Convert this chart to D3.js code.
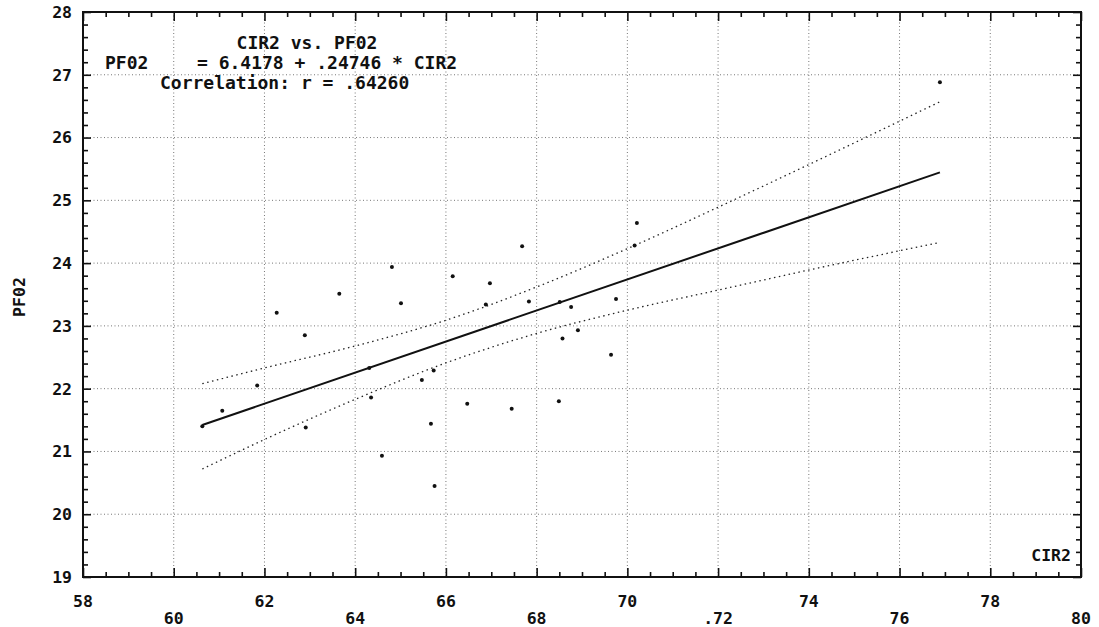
<!DOCTYPE html>
<html>
<head>
<meta charset="utf-8">
<script src="https://cdnjs.cloudflare.com/ajax/libs/d3/7.8.5/d3.min.js"></script>
<style>
  body { margin: 0; background: #fff; }
  text { font-family: "DejaVu Sans Mono", monospace; font-weight: bold; fill: #111; }
</style>
</head>
<body>
<div id="chart"></div>
<script>
// scatter points
var cir2 = [60.63, 61.07, 61.84, 62.27, 62.89, 62.91, 63.65, 64.31, 64.35, 64.59, 64.81,
            65.01, 65.47, 65.67, 65.73, 65.75, 66.15, 66.47, 66.88, 66.97, 67.45, 67.68,
            67.83, 68.49, 68.51, 68.57, 68.76, 68.91, 69.64, 69.75, 70.16, 70.21, 76.89];
var pf02 = [21.40, 21.65, 22.05, 23.21, 22.85, 21.38, 23.51, 22.33, 21.86, 20.93, 23.94,
            23.36, 22.14, 21.44, 22.29, 20.45, 23.79, 21.76, 23.34, 23.68, 21.68, 24.27,
            23.39, 21.80, 23.38, 22.80, 23.30, 22.93, 22.54, 23.43, 24.28, 24.64, 26.88];

// regression from the caption
var intercept = 6.4178, slope = 0.24746;

// confidence band
var bandX = [60.63, 62, 64, 66, 68, 70, 72, 74, 76.89];
var bandUpper = [22.08, 22.33, 22.68, 23.09, 23.62, 24.23, 24.89, 25.57, 26.57];
var bandLower = [20.72, 21.19, 21.83, 22.41, 22.88, 23.25, 23.57, 23.89, 24.33];

var xTicks = [58, 60, 62, 64, 66, 68, 70, 72, 74, 76, 78, 80];
var xTickLabels = ["58", "60", "62", "64", "66", "68", "70", ".72", "74", "76", "78", "80"];
var yTicks = [19, 20, 21, 22, 23, 24, 25, 26, 27, 28];

var captionLines = ["CIR2 vs. PF02", "= 6.4178 + .24746 * CIR2", "Correlation: r = .64260"];

var w = 1099, h = 627;
var margin = {left: 83, right: 1099 - 1081, top: 12, bottom: 627 - 577};

var svg = d3.select("#chart").append("svg")
  .attr("width", w)
  .attr("height", h);

var x = d3.scaleLinear().domain([58, 80]).range([margin.left, w - margin.right]);
var y = d3.scaleLinear().domain([19, 28]).range([h - margin.bottom, margin.top]);

// grid
var grid = svg.append("g").attr("class", "grid")
  .attr("stroke", "#777")
  .attr("stroke-width", 1)
  .attr("stroke-dasharray", "1,2.5");
grid.selectAll(".vg")
  .data(xTicks.slice(1, -1))
  .enter().append("line")
    .attr("x1", function(d) { return x(d); })
    .attr("x2", function(d) { return x(d); })
    .attr("y1", y(28)).attr("y2", y(19));
grid.selectAll(".hg")
  .data(yTicks.slice(1, -1))
  .enter().append("line")
    .attr("y1", function(d) { return y(d); })
    .attr("y2", function(d) { return y(d); })
    .attr("x1", x(58)).attr("x2", x(80));

// minor tick values
var xMinor = d3.range(58, 80.01, 0.5).filter(function(d) { return d % 2 !== 0; });
var yMinor = d3.range(19, 28.01, 0.2).map(function(d) { return +d.toFixed(1); })
  .filter(function(d) { return Math.abs(d - Math.round(d)) > 0.01; });

function styleAxis(g) {
  g.select(".domain").remove();
  g.selectAll("line").attr("stroke", "#111").attr("stroke-width", 1.6);
  g.selectAll("text").remove();
}

var h0 = h - margin.bottom;
svg.append("g").attr("transform", "translate(0," + h0 + ")")
  .call(d3.axisBottom(x).tickValues(xTicks).tickSizeInner(-9).tickSizeOuter(0)).call(styleAxis);
svg.append("g").attr("transform", "translate(0," + h0 + ")")
  .call(d3.axisBottom(x).tickValues(xMinor).tickSizeInner(-5).tickSizeOuter(0)).call(styleAxis);
svg.append("g").attr("transform", "translate(0," + margin.top + ")")
  .call(d3.axisTop(x).tickValues(xTicks).tickSizeInner(-9).tickSizeOuter(0)).call(styleAxis);
svg.append("g").attr("transform", "translate(0," + margin.top + ")")
  .call(d3.axisTop(x).tickValues(xMinor).tickSizeInner(-5).tickSizeOuter(0)).call(styleAxis);
svg.append("g").attr("transform", "translate(" + margin.left + ",0)")
  .call(d3.axisLeft(y).tickValues(yTicks).tickSizeInner(-8).tickSizeOuter(0)).call(styleAxis);
svg.append("g").attr("transform", "translate(" + margin.left + ",0)")
  .call(d3.axisLeft(y).tickValues(yMinor).tickSizeInner(-5).tickSizeOuter(0)).call(styleAxis);
svg.append("g").attr("transform", "translate(" + (w - margin.right) + ",0)")
  .call(d3.axisRight(y).tickValues(yTicks).tickSizeInner(-8).tickSizeOuter(0)).call(styleAxis);
svg.append("g").attr("transform", "translate(" + (w - margin.right) + ",0)")
  .call(d3.axisRight(y).tickValues(yMinor).tickSizeInner(-5).tickSizeOuter(0)).call(styleAxis);

// frame
svg.append("rect")
  .attr("x", x(58)).attr("y", y(28))
  .attr("width", x(80) - x(58)).attr("height", y(19) - y(28))
  .attr("fill", "none")
  .attr("stroke", "#111")
  .attr("stroke-width", 2);

// tick labels, x staggered on two rows
svg.selectAll(".xl")
  .data(xTicks)
  .enter().append("text")
    .attr("x", function(d) { return x(d); })
    .attr("y", function(d, i) { return i % 2 === 0 ? 607 : 624; })
    .attr("text-anchor", "middle")
    .style("font-size", "16.5px")
    .text(function(d, i) { return xTickLabels[i]; });
svg.selectAll(".yl")
  .data(yTicks)
  .enter().append("text")
    .attr("x", 72)
    .attr("y", function(d) { return y(d); })
    .attr("dy", "0.36em")
    .attr("text-anchor", "end")
    .style("font-size", "16.5px")
    .text(function(d) { return d; });

// axis titles
svg.append("text")
  .attr("transform", "translate(25,297) rotate(-90)")
  .attr("text-anchor", "middle")
  .style("font-size", "16.5px")
  .text("PF02");
svg.append("text")
  .attr("x", 1071).attr("y", 561)
  .attr("text-anchor", "end")
  .style("font-size", "16.5px")
  .text("CIR2");

// confidence band
var bandLine = d3.line().curve(d3.curveMonotoneX);
[bandUpper, bandLower].forEach(function(b) {
  svg.append("path")
    .attr("d", bandLine(bandX.map(function(d, i) { return [x(d), y(b[i])]; })))
    .attr("fill", "none")
    .attr("stroke", "#222")
    .attr("stroke-width", 1.3)
    .attr("stroke-dasharray", "1.5,3.5");
});

// regression line
var xMin = d3.min(cir2), xMax = d3.max(cir2);
svg.append("line")
  .attr("x1", x(xMin)).attr("y1", y(intercept + slope * xMin))
  .attr("x2", x(xMax)).attr("y2", y(intercept + slope * xMax))
  .attr("stroke", "#111")
  .attr("stroke-width", 2);

// points
svg.selectAll(".pt")
  .data(cir2)
  .enter().append("circle")
    .attr("class", "pt")
    .attr("cx", function(d) { return x(d); })
    .attr("cy", function(d, i) { return y(pf02[i]); })
    .attr("r", 2)
    .attr("fill", "#111");

// caption
svg.append("text").attr("x", 307).attr("y", 49).attr("text-anchor", "middle")
  .style("font-size", "18px").text(captionLines[0]);
svg.append("text").attr("x", 105).attr("y", 69)
  .style("font-size", "18px").text("PF02");
svg.append("text").attr("x", 197).attr("y", 69)
  .style("font-size", "18px").text(captionLines[1]);
svg.append("text").attr("x", 160).attr("y", 89)
  .style("font-size", "18px").text(captionLines[2]);
</script>
</body>
</html>
